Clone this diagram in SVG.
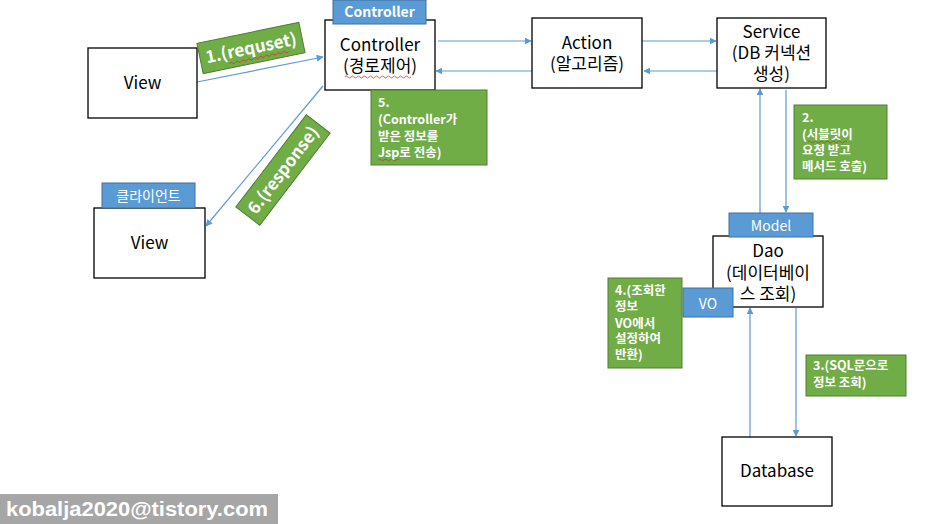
<svg xmlns="http://www.w3.org/2000/svg" width="931" height="524" viewBox="0 0 931 524">
<defs>
<marker id="ah" viewBox="0 0 10 10" refX="9" refY="5" markerWidth="7" markerHeight="7" markerUnits="userSpaceOnUse" orient="auto">
<path d="M0,0 L10,5 L0,10 z" fill="#5B9BD5"/>
</marker>
<style>
.box{fill:#fff;stroke:#000;stroke-width:1.3}
.tab{fill:#5B9BD5;stroke:#41719C;stroke-width:1}
.grn{fill:#70AD47;stroke:#507E32;stroke-width:1}
.t{font-family:"Noto Sans CJK KR","Noto Sans",sans-serif;font-size:17px;fill:#000;text-anchor:middle}
.tw{font-family:"Noto Sans CJK KR","Noto Sans",sans-serif;font-size:14px;fill:#fff;text-anchor:middle}
.g{font-family:"Noto Sans CJK KR","Noto Sans",sans-serif;font-size:12.5px;font-weight:bold;fill:#fff}
.gl{font-family:"Noto Sans CJK KR","Noto Sans",sans-serif;font-size:17px;font-weight:bold;fill:#fff;text-anchor:middle}
.c{stroke:#5B9BD5;stroke-width:1.2;fill:none;marker-end:url(#ah)}
.sq{stroke:#E03030;stroke-width:0.8;fill:none}
</style>
</defs>

<g id="connectors">
<line class="c" x1="197" y1="82" x2="323" y2="57"/>
<line class="c" x1="323" y1="86" x2="206" y2="226"/>
<line class="c" x1="438" y1="41" x2="531" y2="41"/>
<line class="c" x1="532" y1="71" x2="436" y2="71"/>
<line class="c" x1="642" y1="41" x2="716" y2="41"/>
<line class="c" x1="717" y1="71" x2="644" y2="71"/>
<line class="c" x1="760" y1="213" x2="760" y2="89"/>
<line class="c" x1="786" y1="90" x2="786" y2="212"/>
<line class="c" x1="750" y1="437" x2="750" y2="308"/>
<line class="c" x1="796" y1="308" x2="796" y2="436"/>
</g>

<g id="view1">
<rect class="box" x="88" y="48" width="109" height="70"/>
<text class="t" x="142.5" y="89">View</text>
</g>

<g id="controller">
<rect class="box" x="325" y="20" width="110" height="70"/>
<text class="t" x="380" y="51">Controller</text>
<text class="t" x="380" y="72">(경로제어)</text>
<path class="sq" d="M345,77 q1.5,-2 3,0 t3,0 t3,0 t3,0 t3,0 t3,0 t3,0 t3,0 t3,0 t3,0 t3,0 t3,0 t3,0 t3,0 t3,0 t3,0 t3,0 t3,0 t3,0 t3,0 t3,0 t3,0"/>
<rect class="tab" x="333" y="0" width="93" height="24"/>
<text class="tw" x="379.5" y="17" font-weight="bold">Controller</text>
</g>

<g id="action">
<rect class="box" x="532" y="18" width="110" height="70"/>
<text class="t" x="587" y="49">Action</text>
<text class="t" x="587" y="70">(알고리즘)</text>
</g>

<g id="service">
<rect class="box" x="717" y="18" width="109" height="70"/>
<text class="t" x="771.5" y="38">Service</text>
<text class="t" x="771.5" y="59">(DB 커넥션</text>
<text class="t" x="771.5" y="80">생성)</text>
</g>

<g id="view2">
<rect class="box" x="94" y="208" width="111" height="70"/>
<text class="t" x="149.5" y="249">View</text>
<rect class="tab" x="102" y="183" width="93" height="25"/>
<text class="tw" x="148.5" y="200.5">클라이언트</text>
</g>

<g id="dao">
<rect class="box" x="713" y="236" width="110" height="71"/>
<text class="t" x="768" y="257">Dao</text>
<text class="t" x="768" y="279">(데이터베이</text>
<text class="t" x="768" y="300">스 조회)</text>
<rect class="tab" x="729" y="213" width="84" height="24"/>
<text class="tw" x="771" y="230.5">Model</text>
<rect class="tab" x="683" y="288" width="50" height="29"/>
<text class="tw" x="708" y="309" font-size="18px">VO</text>
</g>

<g id="database">
<rect class="box" x="722" y="437" width="110" height="69"/>
<text class="t" x="777" y="477">Database</text>
</g>

<g id="label1">
<g transform="rotate(-11.6 251 48)">
<rect class="grn" x="199" y="32.5" width="104" height="31"/>
<text class="gl" x="251" y="54">1.(requset)</text>
<path class="sq" d="M227,59 q1.5,-2 3,0 t3,0 t3,0 t3,0 t3,0 t3,0 t3,0 t3,0 t3,0 t3,0 t3,0 t3,0 t3,0 t3,0 t3,0 t3,0 t3,0 t3,0 t3,0 t3,0"/>
</g>
</g>

<g id="label6">
<g transform="rotate(-52.6 283 170)">
<rect class="grn" x="225" y="155" width="116" height="30"/>
<text class="gl" x="283" y="176">6.(response)</text>
</g>
</g>

<g id="label5">
<rect class="grn" x="371" y="90" width="116" height="75"/>
<text class="g" x="378" y="107">5.</text>
<text class="g" x="378" y="124">(Controller가</text>
<text class="g" x="378" y="141">받은 정보를</text>
<text class="g" x="378" y="157">Jsp로 전송)</text>
<path class="sq" d="M378,160 q1.5,-2 3,0 t3,0 t3,0 t3,0 t3,0 t3,0 t3,0"/>
</g>

<g id="label2">
<rect class="grn" x="794" y="105" width="93" height="74"/>
<text class="g" x="802" y="122">2.</text>
<text class="g" x="802" y="139">(서블릿이</text>
<path class="sq" d="M808,142 q1.5,-2 3,0 t3,0 t3,0 t3,0 t3,0 t3,0 t3,0 t3,0 t3,0 t3,0 t3,0 t3,0 t3,0"/>
<text class="g" x="802" y="155">요청 받고</text>
<text class="g" x="802" y="171">메서드 호출)</text>
</g>

<g id="label4">
<rect class="grn" x="608" y="278" width="74" height="90"/>
<text class="g" x="615" y="295">4.(조회한</text>
<text class="g" x="615" y="311">정보</text>
<text class="g" x="615" y="328">VO에서</text>
<text class="g" x="615" y="343">설정하여</text>
<text class="g" x="615" y="359">반환)</text>
</g>

<g id="label3">
<rect class="grn" x="806" y="355" width="100" height="41"/>
<text class="g" x="813" y="370">3.(SQL문으로</text>
<text class="g" x="813" y="387">정보 조회)</text>
</g>

<g id="watermark">
<rect x="0" y="494" width="278" height="30" fill="#A6A6A6"/>
<text x="6" y="516" font-family="'Liberation Sans',Arial,sans-serif" font-size="21px" font-weight="bold" fill="#fff" textLength="262" lengthAdjust="spacingAndGlyphs">kobalja2020@tistory.com</text>
</g>
</svg>
